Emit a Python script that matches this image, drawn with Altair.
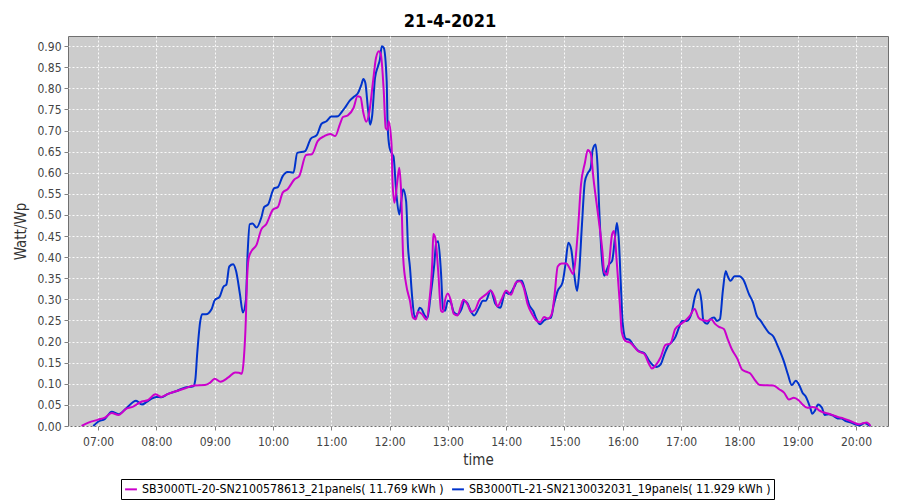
import altair as alt
import pandas as pd

DAY = "2021-04-21"
FONT = "DejaVu Sans Condensed, DejaVu Sans, sans-serif"
TITLE_TEXT = "21-4-2021"
Y_TITLE = "Watt/Wp"
X_TITLE = "time"
S20 = "SB3000TL-20-SN2100578613_21panels( 11.769 kWh )"
S21 = "SB3000TL-21-SN2130032031_19panels( 11.929 kWh )"

times_20 = ["06:43", "06:50", "07:00", "07:07", "07:14", "07:21", "07:29", "07:36", "07:45", "07:51",
            "07:59", "08:05", "08:12", "08:21", "08:29", "08:39", "08:50", "08:55", "09:00", "09:06",
            "09:14", "09:21", "09:25", "09:28", "09:30", "09:32", "09:33", "09:35", "09:38", "09:43",
            "09:48", "09:53", "10:00", "10:05", "10:10", "10:15", "10:22", "10:27", "10:34", "10:40",
            "10:46", "10:53", "10:59", "11:04", "11:09", "11:12", "11:17", "11:23", "11:27", "11:30",
            "11:33", "11:36", "11:39", "11:43", "11:46", "11:49", "11:51", "11:54", "11:56", "11:58",
            "11:59", "12:02", "12:03", "12:05", "12:08", "12:10", "12:12", "12:14", "12:17", "12:21",
            "12:24", "12:27", "12:29", "12:33", "12:38", "12:41", "12:44", "12:45", "12:47", "12:50",
            "12:53", "12:55", "12:57", "13:00", "13:03", "13:06", "13:10", "13:13", "13:16", "13:20",
            "13:24", "13:28", "13:32", "13:36", "13:40", "13:44", "13:48", "13:51", "13:55", "14:00",
            "14:05", "14:10", "14:14", "14:18", "14:22", "14:27", "14:31", "14:35", "14:39", "14:43",
            "14:47", "14:50", "14:53", "14:57", "15:02", "15:05", "15:09", "15:11", "15:14", "15:17",
            "15:21", "15:24", "15:27", "15:30", "15:35", "15:39", "15:41", "15:44", "15:46", "15:49",
            "15:51", "15:54", "15:57", "15:59", "16:03", "16:08", "16:12", "16:16", "16:22", "16:27",
            "16:30", "16:34", "16:39", "16:44", "16:49", "16:54", "17:00", "17:04", "17:09", "17:14",
            "17:18", "17:22", "17:27", "17:31", "17:35", "17:39", "17:44", "17:48", "17:52", "17:58",
            "18:03", "18:08", "18:11", "18:17", "18:21", "18:35", "18:41", "18:46", "18:51", "18:56",
            "19:01", "19:05", "19:10", "19:15", "19:19", "19:22", "19:27", "19:32", "19:37", "19:42",
            "19:47", "19:53", "19:58", "20:03", "20:08", "20:11", "20:15"]
vals_20 = [0.000, 0.008, 0.015, 0.020, 0.031, 0.026, 0.041, 0.046, 0.058, 0.061,
           0.075, 0.069, 0.076, 0.083, 0.089, 0.096, 0.097, 0.102, 0.112, 0.105,
           0.115, 0.127, 0.126, 0.124, 0.160, 0.250, 0.330, 0.398, 0.415, 0.429,
           0.466, 0.478, 0.513, 0.519, 0.553, 0.561, 0.584, 0.592, 0.642, 0.644,
           0.675, 0.687, 0.692, 0.687, 0.716, 0.732, 0.736, 0.754, 0.781, 0.779,
           0.742, 0.721, 0.742, 0.817, 0.872, 0.888, 0.880, 0.793, 0.706, 0.702,
           0.722, 0.667, 0.580, 0.529, 0.580, 0.612, 0.549, 0.399, 0.336, 0.296,
           0.257, 0.253, 0.270, 0.266, 0.252, 0.297, 0.391, 0.455, 0.446, 0.368,
           0.273, 0.270, 0.297, 0.314, 0.297, 0.266, 0.262, 0.281, 0.299, 0.289,
           0.270, 0.275, 0.297, 0.306, 0.313, 0.321, 0.305, 0.283, 0.299, 0.321,
           0.311, 0.340, 0.343, 0.328, 0.289, 0.264, 0.250, 0.246, 0.258, 0.254,
           0.266, 0.315, 0.378, 0.385, 0.385, 0.375, 0.360, 0.387, 0.469, 0.572,
           0.623, 0.654, 0.646, 0.583, 0.493, 0.415, 0.364, 0.358, 0.387, 0.454,
           0.462, 0.383, 0.289, 0.222, 0.201, 0.197, 0.187, 0.177, 0.171, 0.147,
           0.136, 0.144, 0.163, 0.192, 0.195, 0.230, 0.242, 0.249, 0.261, 0.277,
           0.257, 0.251, 0.249, 0.253, 0.242, 0.235, 0.230, 0.206, 0.183, 0.159,
           0.133, 0.128, 0.125, 0.106, 0.097, 0.096, 0.087, 0.079, 0.063, 0.067,
           0.061, 0.051, 0.043, 0.045, 0.043, 0.037, 0.032, 0.029, 0.025, 0.021,
           0.018, 0.013, 0.008, 0.004, 0.007, 0.008, 0.000]

times_21 = ["06:55", "07:00", "07:07", "07:14", "07:21", "07:29", "07:39", "07:45", "07:50", "07:55",
            "08:00", "08:05", "08:12", "08:21", "08:29", "08:38", "08:40", "08:42", "08:45", "08:47",
            "08:51", "08:57", "09:00", "09:05", "09:09", "09:12", "09:15", "09:19", "09:22", "09:26",
            "09:29", "09:32", "09:34", "09:36", "09:39", "09:43", "09:48", "09:51", "09:55", "10:01",
            "10:05", "10:10", "10:15", "10:21", "10:25", "10:33", "10:39", "10:45", "10:50", "10:55",
            "11:00", "11:07", "11:11", "11:14", "11:19", "11:24", "11:27", "11:31", "11:33", "11:35",
            "11:38", "11:40", "11:42", "11:45", "11:48", "11:50", "11:52", "11:54", "11:57", "11:58",
            "12:00", "12:03", "12:04", "12:07", "12:10", "12:12", "12:14", "12:17", "12:19", "12:21",
            "12:23", "12:26", "12:28", "12:31", "12:33", "12:36", "12:39", "12:42", "12:46", "12:48",
            "12:50", "12:53", "12:55", "12:57", "13:00", "13:03", "13:06", "13:10", "13:14", "13:17",
            "13:20", "13:24", "13:27", "13:32", "13:36", "13:39", "13:44", "13:49", "13:54", "13:59",
            "14:03", "14:08", "14:12", "14:16", "14:19", "14:24", "14:28", "14:31", "14:35", "14:39",
            "14:42", "14:46", "14:49", "14:53", "14:58", "15:01", "15:04", "15:07", "15:10", "15:13",
            "15:15", "15:18", "15:21", "15:24", "15:27", "15:29", "15:32", "15:34", "15:36", "15:39",
            "15:41", "15:43", "15:46", "15:49", "15:52", "15:54", "15:56", "15:58", "16:00", "16:03",
            "16:07", "16:11", "16:16", "16:22", "16:27", "16:31", "16:35", "16:39", "16:43", "16:47",
            "16:50", "16:54", "16:58", "17:01", "17:06", "17:11", "17:14", "17:18", "17:21", "17:23",
            "17:27", "17:30", "17:34", "17:37", "17:40", "17:43", "17:46", "17:48", "17:51", "17:55",
            "18:00", "18:04", "18:10", "18:14", "18:18", "18:22", "18:26", "18:30", "18:35", "18:40",
            "18:46", "18:50", "18:54", "18:58", "19:02", "19:05", "19:08", "19:13", "19:15", "19:18",
            "19:21", "19:25", "19:28", "19:32", "19:36", "19:41", "19:45", "19:49", "19:54", "19:59",
            "20:04", "20:09", "20:12", "20:15"]
vals_21 = [0.000, 0.010, 0.017, 0.034, 0.028, 0.042, 0.060, 0.051, 0.057, 0.065,
           0.069, 0.068, 0.076, 0.083, 0.091, 0.094, 0.109, 0.172, 0.246, 0.265,
           0.265, 0.278, 0.298, 0.306, 0.330, 0.335, 0.378, 0.383, 0.367, 0.312,
           0.269, 0.297, 0.415, 0.478, 0.480, 0.470, 0.494, 0.519, 0.525, 0.563,
           0.566, 0.592, 0.602, 0.600, 0.647, 0.651, 0.681, 0.689, 0.716, 0.722,
           0.733, 0.734, 0.745, 0.754, 0.771, 0.781, 0.787, 0.809, 0.822, 0.813,
           0.746, 0.714, 0.734, 0.825, 0.852, 0.868, 0.900, 0.896, 0.817, 0.710,
           0.659, 0.643, 0.639, 0.549, 0.501, 0.533, 0.561, 0.533, 0.423, 0.375,
           0.312, 0.256, 0.262, 0.280, 0.277, 0.262, 0.256, 0.305, 0.383, 0.434,
           0.438, 0.360, 0.277, 0.273, 0.297, 0.293, 0.270, 0.264, 0.277, 0.297,
           0.291, 0.270, 0.262, 0.280, 0.297, 0.297, 0.321, 0.289, 0.280, 0.317,
           0.313, 0.328, 0.344, 0.344, 0.325, 0.285, 0.272, 0.254, 0.241, 0.250,
           0.254, 0.256, 0.287, 0.320, 0.340, 0.383, 0.434, 0.418, 0.360, 0.320,
           0.360, 0.477, 0.579, 0.599, 0.611, 0.654, 0.667, 0.618, 0.501, 0.383,
           0.356, 0.367, 0.383, 0.391, 0.446, 0.481, 0.438, 0.336, 0.242, 0.207,
           0.204, 0.191, 0.178, 0.173, 0.155, 0.144, 0.140, 0.146, 0.171, 0.191,
           0.198, 0.210, 0.234, 0.249, 0.249, 0.269, 0.304, 0.324, 0.296, 0.249,
           0.242, 0.253, 0.257, 0.249, 0.253, 0.320, 0.367, 0.355, 0.344, 0.355,
           0.355, 0.347, 0.312, 0.293, 0.261, 0.249, 0.235, 0.222, 0.212, 0.187,
           0.152, 0.122, 0.097, 0.107, 0.095, 0.079, 0.071, 0.043, 0.029, 0.037,
           0.051, 0.043, 0.026, 0.028, 0.025, 0.018, 0.018, 0.012, 0.009, 0.004,
           0.002, 0.007, 0.004, 0.000]

y_ticks = [0.00, 0.05, 0.10, 0.15, 0.20, 0.25, 0.30, 0.35, 0.40, 0.45,
           0.50, 0.55, 0.60, 0.65, 0.70, 0.75, 0.80, 0.85, 0.90]
hour_ticks = [7, 8, 9, 10, 11, 12, 13, 14, 15, 16, 17, 18, 19, 20]
series_names = [S20, S21]
series_colors = ["#CC00CC", "#0033CC"]

rows = []
for t, v in zip(times_20, vals_20):
    rows.append({"time": f"{DAY}T{t}:00", "value": v, "series": S20})
for t, v in zip(times_21, vals_21):
    rows.append({"time": f"{DAY}T{t}:00", "value": v, "series": S21})
df = pd.DataFrame(rows)


def dt(h, m=0):
    return alt.DateTime(year=2021, month=4, date=21, hours=h, minutes=m)


x_enc = alt.X(
    "time:T",
    scale=alt.Scale(domain=[dt(6, 29), dt(20, 33)], nice=False),
    axis=alt.Axis(
        values=[dt(h) for h in hour_ticks],
        format="%H:%M",
        title=X_TITLE,
        titlePadding=5,
        labelPadding=6,
    ),
)
y_enc = alt.Y(
    "value:Q",
    scale=alt.Scale(domain=[0, 0.924], nice=False, zero=True),
    axis=alt.Axis(values=y_ticks, format=".2f", title=Y_TITLE, titlePadding=8, labelPadding=3),
)
legend = alt.Legend(
    title=None,
    orient="none",
    legendX=53,
    legendY=443,
    direction="horizontal",
    symbolType="stroke",
    symbolStrokeWidth=2,
    symbolSize=140,
    labelFontSize=12.3,
    labelFont=FONT,
    labelColor="#000000",
    labelLimit=600,
    labelOffset=4,
    columnPadding=4,
    padding=3,
    strokeColor="#000000",
    fillColor="#FFFFFF",
    cornerRadius=0,
)
color_enc = alt.Color(
    "series:N",
    scale=alt.Scale(domain=series_names, range=series_colors),
    legend=legend,
)

base = alt.Chart(df).mark_line(strokeWidth=2, interpolate="monotone")
blue = base.transform_filter(alt.datum.series == S21).encode(x=x_enc, y=y_enc, color=color_enc)
magenta = base.transform_filter(alt.datum.series == S20).encode(x=x_enc, y=y_enc, color=color_enc)

chart = (
    alt.layer(blue, magenta)
    .properties(
        width=820,
        height=390,
        autosize=alt.AutoSizeParams(type="none"),
        padding={"left": 60, "top": 28, "right": 4, "bottom": 74},
        title=alt.TitleParams(
            TITLE_TEXT,
            fontSize=18,
            fontWeight="bold",
            font=FONT,
            color="#000000",
            anchor="middle",
            dx=-28,
            offset=5,
        ),
        background="#FFFFFF",
    )
    .configure_view(fill="#CCCCCC", stroke="#707070", strokeWidth=1)
    .configure_axis(
        domain=False,
        grid=True,
        gridColor="#FFFFFF",
        gridDash=[2, 2],
        gridOpacity=0.9,
        gridWidth=1,
        tickColor="#808080",
        tickSize=4,
        labelFont=FONT,
        labelFontSize=12,
        labelColor="#444444",
        titleFont=FONT,
        titleFontSize=15,
        titleFontWeight="normal",
        titleColor="#333333",
    )
)

chart.save("out.html", embed_options={"renderer": "svg", "actions": False})
